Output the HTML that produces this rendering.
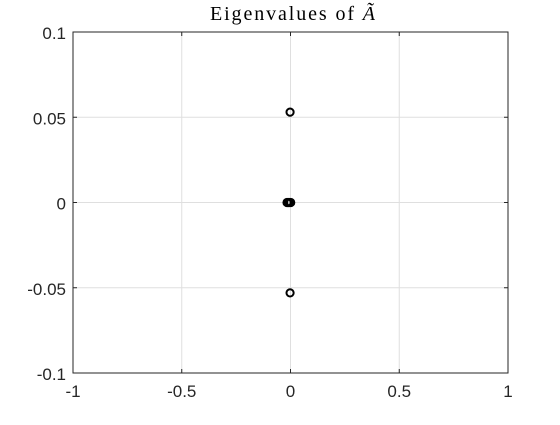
<!DOCTYPE html>
<html><head><meta charset="utf-8"><style>
body{margin:0;background:#fff}
svg text{font-family:"Liberation Sans",sans-serif;font-size:17px;fill:#262626}
</style></head><body>
<svg width="560" height="420" viewBox="0 0 560 420">
<rect x="0" y="0" width="560" height="420" fill="#fff"/>
<rect x="73" y="32" width="435" height="341" fill="#fff"/>
<g id="grid"></g>
<g id="ticks"></g>
<rect x="73" y="32" width="435" height="341" fill="none" stroke="#262626" stroke-width="1"/>
<g id="pts"></g>
<text x="210" y="20" textLength="165" lengthAdjust="spacing" style="font-family:'Liberation Serif',serif;font-size:20px;fill:#000">Eigenvalues of <tspan font-style="italic">Ã</tspan></text>
</svg>
<script>
const realParts=[-0.002,-0.002,-0.016,-0.011,-0.006,0.001];
const imagParts=[0.053,-0.053,0,0,0,0];
const xTicks=[-1,-0.5,0,0.5,1];
const xTickLabels=["-1","-0.5","0","0.5","1"];
const yTicks=[0.1,0.05,0,-0.05,-0.1];
const yTickLabels=["0.1","0.05","0","-0.05","-0.1"];
const L=73,R=508,T=32,B=373,NS="http://www.w3.org/2000/svg";
const xs=v=>L+(v+1)/2*(R-L), ys=v=>B-(v+0.1)/0.2*(B-T);
function mk(t,a,p){const e=document.createElementNS(NS,t);for(const k in a)e.setAttribute(k,a[k]);p.appendChild(e);return e;}
const g=document.getElementById('grid'),tk=document.getElementById('ticks'),pts=document.getElementById('pts');
xTicks.forEach((v,i)=>{const x=xs(v);
 if(i>0&&i<xTicks.length-1){const l=mk('line',{x1:x,x2:x,y1:T,y2:B,stroke:'#dfdfdf','stroke-width':1},g);
 
 }
 mk('line',{x1:x,x2:x,y1:B,y2:B-4,stroke:'#262626'},tk);mk('line',{x1:x,x2:x,y1:T,y2:T+4,stroke:'#262626'},tk);
 const t=mk('text',{x:x,y:B+24,'text-anchor':'middle'},tk);t.textContent=xTickLabels[i];
 
 });
yTicks.forEach((v,i)=>{const y=ys(v);
 if(i>0&&i<yTicks.length-1){const l=mk('line',{x1:L,x2:R,y1:y,y2:y,stroke:'#dfdfdf','stroke-width':1},g);
 
 }
 mk('line',{x1:L,x2:L+4,y1:y,y2:y,stroke:'#262626'},tk);mk('line',{x1:R,x2:R-4,y1:y,y2:y,stroke:'#262626'},tk);
 const t=mk('text',{x:L-7,y:y+7,'text-anchor':'end'},tk);t.textContent=yTickLabels[i];
 
 });
realParts.forEach((r,i)=>{const c=mk('circle',{cx:xs(r),cy:ys(imagParts[i]),r:3.6,fill:'none',stroke:'#000','stroke-width':2},pts);
 
 });
</script>
</body></html>
